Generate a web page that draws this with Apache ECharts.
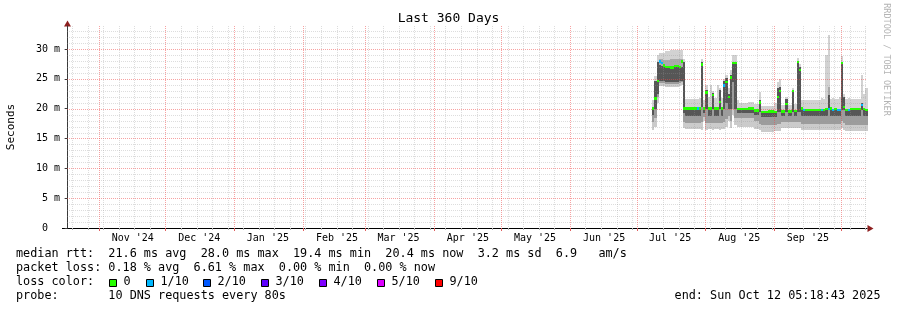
<!DOCTYPE html>
<html><head><meta charset="utf-8">
<script src="https://cdn.jsdelivr.net/npm/echarts@6/dist/echarts.min.js"></script>
<style>html,body{margin:0;padding:0;background:#fff}#c{width:897px;height:310px}</style>
</head><body><div id="c"></div><script>
// x unit: days since about 18 Oct 2024 (start of the 360-day window)
const monthStarts = [14, 44, 75, 106, 134, 165, 195, 226, 256, 287, 318, 348];
const weekLines = [2,9,16,23,30,37,44,51,58,65,72,79,86,93,100,107,114,121,128,135,142,149,156,163,170,177,184,191,198,205,212,219,226,233,240,247,254,261,268,275,282,289,296,303,310,317,324,331,338,345,352,359];
const monthLabels = ["Nov '24","Dec '24","Jan '25","Feb '25","Mar '25","Apr '25","May '25","Jun '25","Jul '25","Aug '25","Sep '25"];
const monthLabelDays = [29.3, 59.2, 90.1, 121.2, 148.9, 180.1, 210.3, 241.4, 271.1, 302.2, 333.1];
const yTicks = [0, 5, 10, 15, 20, 25, 30];
const yMinor = [1,2,3,4,6,7,8,9,11,12,13,14,16,17,18,19,21,22,23,24,26,27,28,29,31,32,33];

// smoke data (ms), one run per entry, each run lasts until the next start day
const segStart = [263,264,265,266,267,268,269,271,273,275,276,277,278,283,284,285,286,287,288,289,290,291,292,293,294,295,296,297,298,299,300,301,302,306,309,311,312,315,318,319,320,321,323,324,326,327,328,329,330,331,332,339,340,341,342,343,344,345,346,347,348,349,350,351,352,357,358,359];
const p0 = [16.4,17.0,21.0,23.8,23.8,23.8,23.7,23.7,23.7,23.8,23.9,16.8,16.6,16.6,16.6,16.5,18.0,16.4,16.6,16.6,16.5,16.6,16.6,16.5,16.6,16.6,17.0,18.0,16.8,19.0,17.2,17.0,17.0,17.0,16.6,16.4,16.1,16.1,16.2,16.3,16.3,16.8,16.8,16.8,16.8,16.8,16.8,16.8,16.5,16.5,16.5,16.5,16.5,16.5,16.5,16.5,16.5,16.5,16.5,16.5,16.8,16.5,16.3,16.3,16.3,16.3,16.3,16.3];
const p1 = [17.8,18.5,22.0,24.3,24.3,24.3,24.2,24.2,24.2,24.3,24.4,17.8,17.6,17.6,17.6,17.8,18.6,17.6,17.6,17.6,17.6,17.6,17.6,17.6,17.6,17.8,18.2,18.8,18.0,20.0,18.5,18.4,18.4,18.4,18.0,17.5,17.3,17.3,17.3,17.5,17.5,17.8,17.8,17.8,17.8,17.8,17.8,17.8,17.5,17.5,17.5,17.5,17.5,17.5,17.5,17.5,17.5,17.5,17.5,17.5,18.0,17.6,17.3,17.3,17.3,17.3,17.3,17.3];
const p2 = [19.0,20.0,22.5,24.6,24.6,24.6,24.5,24.5,24.5,24.6,24.7,19.2,18.8,18.8,18.8,20.2,19.3,20.0,18.8,18.8,20.0,18.8,18.8,20.0,18.8,20.0,21.0,20.0,20.0,24.5,20.0,19.2,19.2,19.2,19.0,19.4,18.6,18.6,18.6,19.4,19.4,18.8,19.4,18.8,19.4,18.8,19.5,19.5,18.8,18.8,18.8,18.8,18.8,18.8,19.8,18.8,18.8,18.8,18.8,18.8,19.8,19.8,18.7,18.7,18.7,19.8,18.7,18.7];
const p3 = [20.2,24.6,27.9,27.3,27.2,27.0,26.9,26.9,26.9,27.0,27.0,27.9,20.0,20.0,20.0,27.8,20.0,23.1,20.0,20.0,22.6,20.0,20.0,23.1,20.0,24.6,25.1,22.5,25.6,27.9,27.9,19.9,19.9,19.9,19.7,21.5,19.4,19.4,19.4,23.4,23.7,19.5,21.7,19.5,23.1,19.6,28.0,27.0,19.8,19.8,19.8,19.8,19.8,19.9,22.3,19.9,19.8,19.8,19.8,19.8,27.9,22.0,19.8,19.8,19.8,21.0,19.9,19.8];
const p4 = [20.2,24.6,27.9,28.3,28.3,28.2,28.2,28.3,28.3,28.4,28.4,27.9,20.0,20.0,20.0,27.8,20.0,23.1,20.0,20.0,22.6,20.0,20.0,23.1,20.0,24.6,25.1,22.5,25.6,27.9,27.9,19.9,19.9,19.9,19.7,21.5,19.4,19.4,19.4,23.4,23.7,19.5,21.7,19.5,23.1,19.6,28.0,27.0,19.8,19.8,19.8,19.8,19.8,19.9,23.7,19.9,19.8,19.8,19.8,19.8,27.9,22.0,19.8,19.8,19.8,21.0,19.9,19.8];
const p5 = [21.4,25.5,29.0,29.3,29.3,29.4,29.6,29.8,29.8,29.8,29.8,28.4,21.6,21.6,21.8,28.3,21.5,24.0,22.0,24.0,23.0,21.8,24.0,23.5,21.8,25.0,25.6,23.5,26.5,29.0,29.0,21.4,21.0,21.1,20.8,22.8,20.4,20.5,21.0,24.5,25.0,20.6,22.0,20.6,23.5,20.8,28.5,27.5,21.4,21.4,21.4,21.8,21.6,29.0,32.3,21.6,21.8,21.6,21.6,22.0,28.8,22.5,21.6,21.8,21.6,25.6,22.5,23.4];
const median = [20.0,21.7,24.6,27.9,27.7,27.2,27.0,26.9,27.1,27.0,27.9,20.0,20.0,20.0,20.0,27.4,20.0,22.7,20.0,20.0,22.3,20.0,20.0,21.1,20.0,23.9,24.5,22.0,25.2,27.6,27.6,19.9,19.9,20.0,19.7,21.0,19.4,19.5,19.4,22.0,23.0,19.5,20.8,19.5,23.0,19.6,27.8,26.5,20.0,19.8,19.8,19.8,19.8,19.9,19.9,20.0,19.8,19.9,19.8,19.8,27.7,20.3,19.8,19.8,19.9,20.6,19.9,19.8];
const loss = [0,0,0,1,1,0,0,0,0,0,0,0,0,1,0,0,0,0,0,0,0,0,0,0,0,1,0,0,0,0,0,0,0,0,0,0,0,0,0,0,0,0,0,0,0,0,0,0,0,1,0,1,0,0,1,0,1,0,1,1,0,0,0,1,0,1,0,0];

const lossLevels = [0, 1, 2, 3, 4, 5, 9];
const lossLabels = ['0', '1/10', '2/10', '3/10', '4/10', '5/10', '9/10'];
const lossColors = ['#26ff00', '#00b8ff', '#0059ff', '#5e00ff', '#7e00ff', '#dd00ff', '#ff0000'];

const bandColors = ['#cbcbcb', '#9c9c9c', '#565656', '#aaaaaa', '#d2d2d2'];
const MONO = '"DejaVu Sans Mono", monospace';

const segEnd = segStart.slice(1).concat([360]);
const smokeData = segStart.map((s, i) => [s, segEnd[i], p0[i], p1[i], p2[i], p3[i], p4[i], p5[i], median[i], loss[i]]);

const gridData = [];
yMinor.forEach(v => gridData.push([0, v, 0]));
yTicks.filter(v => v > 0).forEach(v => gridData.push([0, v, 1]));
weekLines.filter(v => monthStarts.indexOf(v) < 0).forEach(v => gridData.push([1, v, 0]));
monthStarts.forEach(v => gridData.push([1, v, 1]));

function renderGrid(params, api) {
  const cs = params.coordSys;
  const o = api.value(0), v = api.value(1), k = api.value(2);
  const stroke = k ? 'rgba(240,70,70,0.5)' : 'rgba(150,150,150,0.32)';
  if (o === 0) {
    const y = Math.round(api.coord([0, v])[1]) + 0.5;
    return {type: 'line', silent: true, shape: {x1: cs.x, y1: y, x2: cs.x + cs.width, y2: y},
      style: {stroke: stroke, lineWidth: 1, lineDash: [1, 1]}};
  }
  const x = Math.round(api.coord([v, 0])[0]) + 0.5;
  const yb = cs.y + cs.height;
  return {type: 'group', silent: true, children: [
    {type: 'line', shape: {x1: x, y1: cs.y, x2: x, y2: yb}, style: {stroke: stroke, lineWidth: 1, lineDash: [1, 1]}},
    {type: 'line', shape: {x1: x, y1: yb, x2: x, y2: yb + (k ? 3 : 2)}, style: {stroke: k ? '#e06060' : '#b0b0b0', lineWidth: 1}}
  ]};
}

function renderSmoke(params, api) {
  const X0 = Math.round(api.coord([api.value(0), 0])[0]);
  const X1 = Math.round(api.coord([api.value(1), 0])[0]);
  const ch = [];
  for (let k = 0; k < 5; k++) {
    const yb = Math.round(api.coord([0, api.value(2 + k)])[1]);
    const yt = Math.round(api.coord([0, api.value(3 + k)])[1]);
    if (yb > yt) ch.push({type: 'rect', shape: {x: X0, y: yt, width: X1 - X0, height: yb - yt}, style: {fill: bandColors[k]}});
  }
  return {type: 'group', silent: true, children: ch};
}

function renderMedian(params, api) {
  const X0 = Math.round(api.coord([api.value(0), 0])[0]);
  const X1 = Math.round(api.coord([api.value(1), 0])[0]);
  const m = api.value(8);
  const yt = Math.round(api.coord([0, m + 0.2])[1]);
  let yb = Math.round(api.coord([0, m - 0.2])[1]);
  if (yb - yt < 2) yb = yt + 2;
  const li = lossLevels.indexOf(api.value(9));
  return {type: 'rect', silent: true, shape: {x: X0, y: yt, width: X1 - X0, height: yb - yt}, style: {fill: lossColors[li]}};
}

const graphics = [];
function txt(x, y, s, opt) {
  graphics.push(Object.assign({type: 'text', x: x, y: y, silent: true,
    style: Object.assign({text: s, font: '11.8px ' + MONO, fill: '#000', align: 'left', verticalAlign: 'middle'}, opt || {})}));
}
txt(10.7, 127, 'Seconds', {font: '11px ' + MONO, align: 'center'});
graphics[graphics.length - 1].rotation = Math.PI / 2;
txt(886.5, 59.5, 'RRDTOOL / TOBI OETIKER', {font: '8.5px ' + MONO, align: 'center', fill: '#b4b4b4'});
graphics[graphics.length - 1].rotation = -Math.PI / 2;
txt(16, 254.3, 'median rtt:  21.6 ms avg  28.0 ms max  19.4 ms min  20.4 ms now  3.2 ms sd  6.9   am/s');
txt(16, 268.3, 'packet loss: 0.18 % avg  6.61 % max  0.00 % min  0.00 % now');
txt(16, 282.3, 'loss color:');
txt(16, 296.3, 'probe:       10 DNS requests every 80s');
txt(880.5, 296.3, 'end: Sun Oct 12 05:18:43 2025', {align: 'right'});
const sqX = [109, 146, 203, 261, 319, 377, 435];
lossLabels.forEach((lab, i) => {
  graphics.push({type: 'rect', silent: true, shape: {x: sqX[i] + 0.5, y: 279.5, width: 7, height: 7},
    style: {fill: lossColors[i], stroke: '#000', lineWidth: 1}});
  txt(sqX[i] + 14.5, 282.3, lab);
});
// axis decorations: left extension of x axis, arrows
graphics.push({type: 'line', silent: true, shape: {x1: 62, y1: 228.5, x2: 67, y2: 228.5}, style: {stroke: '#000', lineWidth: 1}});
graphics.push({type: 'polygon', silent: true, shape: {points: [[67.5, 20.5], [64, 26.5], [71, 26.5]]}, style: {fill: '#8e1f1f'}});
graphics.push({type: 'polygon', silent: true, shape: {points: [[873.5, 228.5], [867.5, 225], [867.5, 232]]}, style: {fill: '#8e1f1f'}});

const option = {
  animation: false,
  backgroundColor: '#ffffff',
  title: {text: 'Last 360 Days', left: 'center', top: 12.5, padding: 0,
    textStyle: {fontFamily: MONO, fontSize: 13, fontWeight: 'normal', color: '#000'}},
  grid: {left: 67, top: 26, width: 800, height: 202, containLabel: false},
  xAxis: {type: 'value', min: -0.3, max: 359.7,
    axisLine: {show: true, lineStyle: {color: '#000', width: 1}},
    axisTick: {show: false},
    splitLine: {show: false},
    axisLabel: {show: true, customValues: monthLabelDays, margin: 5,
      formatter: (v) => { const i = monthLabelDays.indexOf(v); return i >= 0 ? monthLabels[i] : ''; },
      fontFamily: MONO, fontSize: 10, color: '#000'}},
  yAxis: {type: 'value', min: 0, max: 33.85,
    axisLine: {show: true, lineStyle: {color: '#3a3a3a', width: 1}},
    axisTick: {show: true, customValues: yTicks, length: 3, lineStyle: {color: '#3a3a3a'}},
    splitLine: {show: false},
    axisLabel: {show: true, customValues: yTicks, margin: 7,
      formatter: (v) => v === 0 ? '0  ' : v + ' m',
      fontFamily: MONO, fontSize: 10, color: '#000'}},
  graphic: graphics,
  series: [
    {type: 'custom', name: 'smoke', z: 2, silent: true, renderItem: renderSmoke, data: smokeData,
      encode: {x: [0, 1], y: [2, 7]}},
    {type: 'custom', name: 'grid', z: 3, silent: true, renderItem: renderGrid, data: gridData,
      encode: {x: 1, y: 1}},
    {type: 'custom', name: 'median', z: 4, silent: true, renderItem: renderMedian, data: smokeData,
      encode: {x: [0, 1], y: 8}}
  ]
};
const chart = echarts.init(document.getElementById('c'), null, {renderer: 'canvas', width: 897, height: 310});
chart.setOption(option);
</script></body></html>
